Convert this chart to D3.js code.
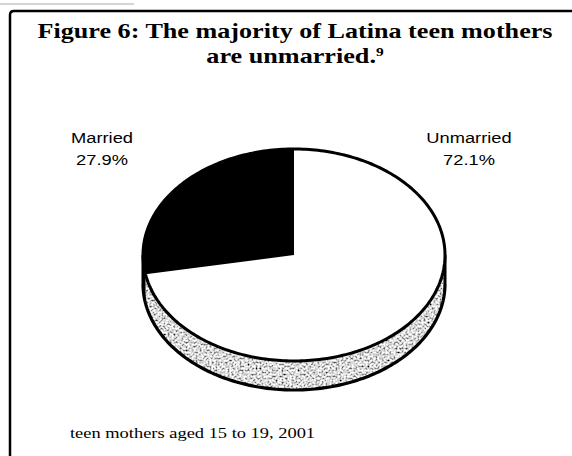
<!DOCTYPE html>
<html>
<head>
<meta charset="utf-8">
<script src="https://cdn.jsdelivr.net/npm/d3@7"></script>
<style>
  body { margin: 0; background: #fff; }
  svg { display: block; }
</style>
</head>
<body>
<svg id="chart" width="572" height="456"></svg>
<script>
// Data
const categories = ["Unmarried", "Married"];
const shares = [72.1, 27.9];
const shareLabels = ["72.1%", "27.9%"];
const titleLines = ["Figure 6: The majority of Latina teen mothers", "are unmarried."];
const titleNote = "9";
const footnote = "teen mothers aged 15 to 19, 2001";

const W = 572, H = 456;
const svg = d3.select("#chart");

// Type is set slightly wide throughout
const stretch = 1.19;

// Pie geometry (tilted ellipse with a thick side wall)
const cx = 294, cy = 255, rx = 151, ry = 106, depth = 29;

const color = d3.scaleOrdinal().domain(categories).range(["#ffffff", "#000000"]);

// Mottled grey grain for the visible wall of the light slice
const defs = svg.append("defs");
const f = defs.append("filter").attr("id", "grainFx")
  .attr("x", 0).attr("y", 0).attr("width", 1).attr("height", 1);
f.append("feTurbulence").attr("type", "fractalNoise").attr("baseFrequency", 0.5)
  .attr("numOctaves", 3).attr("seed", 11).attr("result", "noise");
f.append("feColorMatrix").attr("in", "noise").attr("type", "matrix")
  .attr("values", "2.4 0 0 0 -0.5  2.4 0 0 0 -0.5  2.4 0 0 0 -0.5  0 0 0 0 1")
  .attr("result", "g");
f.append("feComposite").attr("in", "g").attr("in2", "SourceAlpha").attr("operator", "in");

// Frame
svg.append("path")
  .attr("d", `M10,${H} L10,15 Q10,11 14,11 L${W},11`)
  .attr("fill", "none").attr("stroke", "#000").attr("stroke-width", 2.5);
svg.append("line").attr("x1", 0).attr("x2", 134).attr("y1", 4).attr("y2", 4)
  .attr("stroke", "#aaa").attr("stroke-width", 1);

// Title
const serif = "'Liberation Serif','Times New Roman',Times,serif";
svg.append("text")
  .attr("x", 295).attr("y", 38).attr("text-anchor", "middle")
  .attr("font-family", serif).attr("font-weight", "bold").attr("font-size", 22)
  .attr("textLength", 515).attr("lengthAdjust", "spacingAndGlyphs")
  .text(titleLines[0]);
const t2 = svg.append("text")
  .attr("transform", `translate(295,63) scale(${stretch},1)`)
  .attr("text-anchor", "middle")
  .attr("font-family", serif).attr("font-weight", "bold").attr("font-size", 22);
t2.append("tspan").text(titleLines[1]);
t2.append("tspan").attr("font-size", 13).attr("dy", -7).text(titleNote);

// Slices via d3.pie (clockwise from 12 o'clock)
const arcs = d3.pie().sort(null).value(d => d)(shares);

const pt = (a, dy = 0) => [cx + rx * Math.sin(a), cy - ry * Math.cos(a) + dy];
const samples = (a0, a1) => {
  const n = Math.max(2, Math.ceil((a1 - a0) / 0.02));
  return d3.range(n + 1).map(i => a0 + (a1 - a0) * i / n);
};
const line = d3.line();

// Side walls (front half only)
const g = svg.append("g");
arcs.forEach((d, i) => {
  const a0 = Math.max(d.startAngle, Math.PI / 2);
  const a1 = Math.min(d.endAngle, 3 * Math.PI / 2);
  if (a1 <= a0) return;
  const top = samples(a0, a1).map(a => pt(a));
  const bot = samples(a0, a1).reverse().map(a => pt(a, depth));
  const p = g.append("path").attr("d", line(top.concat(bot)) + "Z");
  if (categories[i] === "Unmarried") p.attr("fill", "#aaa").attr("filter", "url(#grainFx)");
  else p.attr("fill", "#000");
});

// Side outline: bottom rim and vertical edges
const rim = samples(Math.PI / 2, 3 * Math.PI / 2).map(a => pt(a, depth));
g.append("path").attr("d", line(rim))
  .attr("fill", "none").attr("stroke", "#000").attr("stroke-width", 3.2).attr("stroke-linejoin", "round");
[Math.PI / 2, 3 * Math.PI / 2].forEach(a => {
  g.append("path").attr("d", line([pt(a), pt(a, depth)]))
    .attr("stroke", "#000").attr("stroke-width", 3);
});

// Top faces
arcs.forEach((d, i) => {
  const pts = [[cx, cy]].concat(samples(d.startAngle, d.endAngle).map(a => pt(a)));
  g.append("path").attr("d", line(pts) + "Z")
    .attr("fill", color(categories[i]));
});
const rimTop = samples(0, 2 * Math.PI).map(a => pt(a));
g.append("path").attr("d", line(rimTop) + "Z")
  .attr("fill", "none").attr("stroke", "#000").attr("stroke-width", 3);

// Slice labels
const sans = "'Liberation Sans',Arial,Helvetica,sans-serif";
const labelPos = { "Unmarried": [469, 143], "Married": [102, 143] };
categories.forEach((c, i) => {
  const [x, y] = labelPos[c];
  const t = svg.append("text").attr("text-anchor", "middle")
    .attr("transform", `translate(${x},${y}) scale(1.22,1)`)
    .attr("font-family", sans).attr("font-size", 15).attr("fill", "#000");
  t.append("tspan").attr("x", 0).attr("y", 0).text(c);
  t.append("tspan").attr("x", 0).attr("y", 22).text(shareLabels[i]);
});

// Footnote
svg.append("text")
  .attr("transform", `translate(70,438) scale(${stretch},1)`)
  .attr("font-family", serif).attr("font-size", 15.5)
  .text(footnote);
</script>
</body>
</html>
